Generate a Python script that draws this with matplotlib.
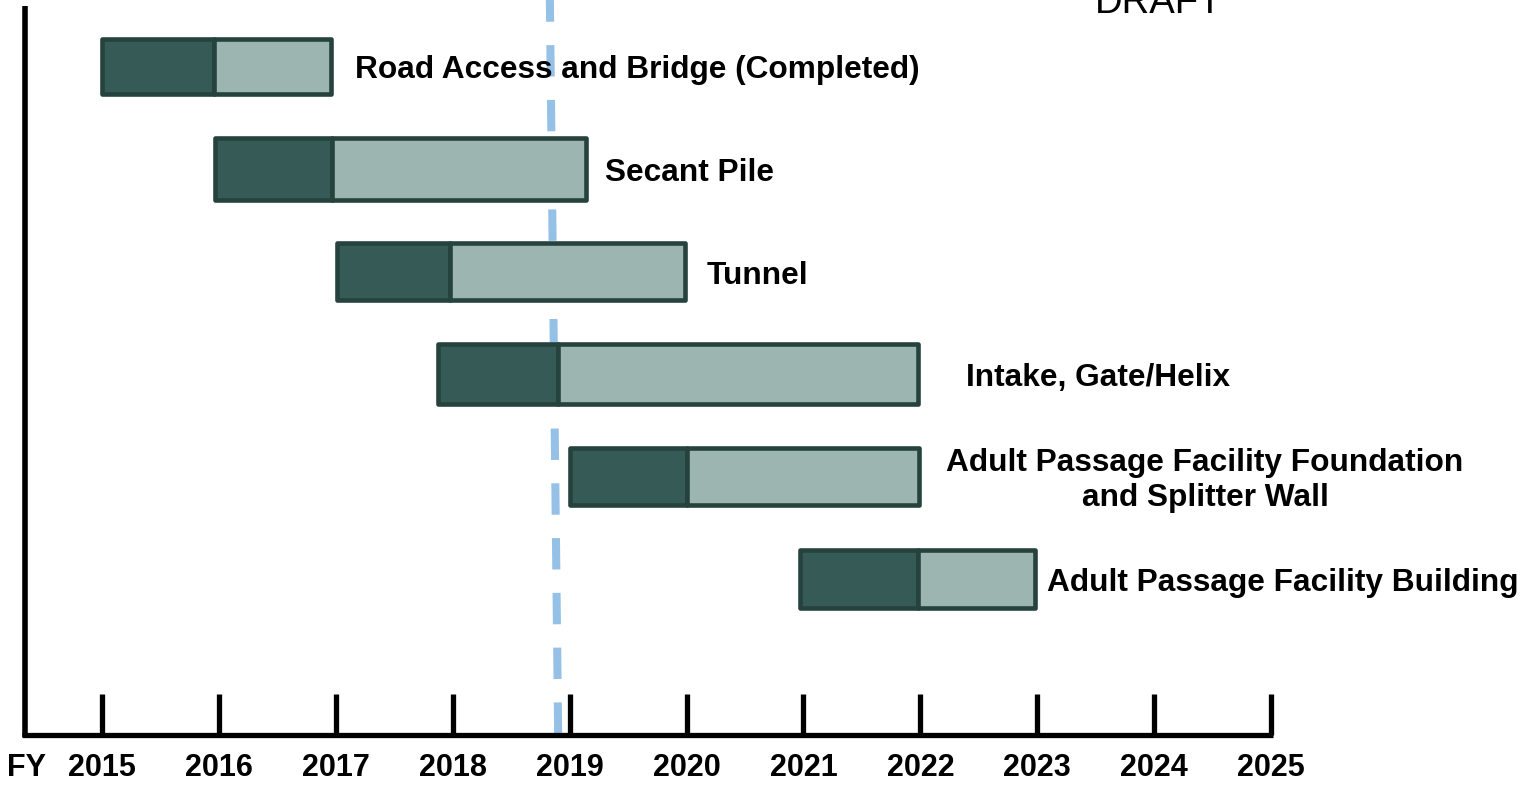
# -*- coding: utf-8 -*-
"""
Construction schedule (Gantt style) with a "today" marker.
Dark part of each bar = design, light part = construction.
"""

import matplotlib
matplotlib.use("Agg")
import matplotlib.pyplot as plt

# --- data -------------------------------------------------------------
tasks = [
    "Road Access and Bridge (Completed)",
    "Secant Pile",
    "Tunnel",
    "Intake, Gate/Helix",
    "Adult Passage Facility Foundation\nand Splitter Wall",
    "Adult Passage Facility Building",
]
start = [2015.00, 2015.97, 2017.01, 2017.87, 2019.00, 2020.97]
split = [2015.96, 2016.97, 2017.98, 2018.90, 2020.00, 2021.98]
finish = [2016.96, 2019.14, 2019.99, 2021.98, 2021.99, 2022.98]

years = [2015, 2016, 2017, 2018, 2019, 2020, 2021, 2022, 2023, 2024, 2025]
today = [2018.902, 2018.831]   # marker drawn bottom -> top, slightly slanted

# --- layout -----------------------------------------------------------
label_x = [2017.164, 2019.303, 2020.175, 2022.391, 2024.435, 2023.084]
label_ha = ["left", "left", "left", "left", "center", "left"]
bar_h = [0.54, 0.61, 0.55, 0.59, 0.55, 0.56]

DARK = "#365b57"
LIGHT = "#9db5b1"
EDGE = "#25423d"
BLUE = "#96c1e6"

plt.rcParams["font.family"] = ["Liberation Sans", "DejaVu Sans"]

fig = plt.figure(figsize=(15.28, 7.86), dpi=100)
ax = fig.add_axes([0, 0, 1, 1])
ax.set_xlim(2014.1275, 2027.198)
ax.set_ylim(7.0167, -0.6464)
ax.axis("off")

rows = list(range(len(tasks)))

# today marker (behind the bars)
y_axis = 6.518
ax.plot(today, [y_axis - 0.01, -0.65], color=BLUE, lw=5.8,
        dashes=(3.9, 2.9), solid_capstyle="butt", zorder=1)

dur1 = [s - a for a, s in zip(start, split)]
dur2 = [f - s for s, f in zip(split, finish)]
ax.barh(rows, dur1, left=start, height=bar_h, color=DARK, edgecolor=EDGE,
        linewidth=3.3, zorder=3)
ax.barh(rows, dur2, left=split, height=bar_h, color=LIGHT, edgecolor=EDGE,
        linewidth=3.3, zorder=3)
for p in ax.patches:
    p.set_joinstyle("round")

for r, name, lx, ha in zip(rows, tasks, label_x, label_ha):
    ax.text(lx, r + 0.04, name, ha=ha, va="center", fontsize=22.8,
            fontweight="bold", multialignment="center", zorder=2)

# time axis drawn by hand
x_left = 2014.339
ax.plot([x_left, x_left], [y_axis + 0.025, -0.588], color="black",
        lw=4.0, solid_capstyle="butt", zorder=4)
ax.plot([x_left - 0.02, 2025.02], [y_axis, y_axis], color="black",
        lw=3.8, solid_capstyle="butt", zorder=4)
ax.vlines(years, 6.12, y_axis, color="black", lw=3.8, zorder=4)
for yr in years:
    ax.text(yr, 6.841, str(yr), ha="center", va="center", fontsize=22,
            fontweight="bold")
ax.text(2014.35, 6.841, "FY", ha="center", va="center", fontsize=22,
        fontweight="bold")

ax.text(2023.495, -0.5226, "DRAFT", ha="left", va="baseline", fontsize=27.5)

fig.savefig("out.png", dpi=100)
